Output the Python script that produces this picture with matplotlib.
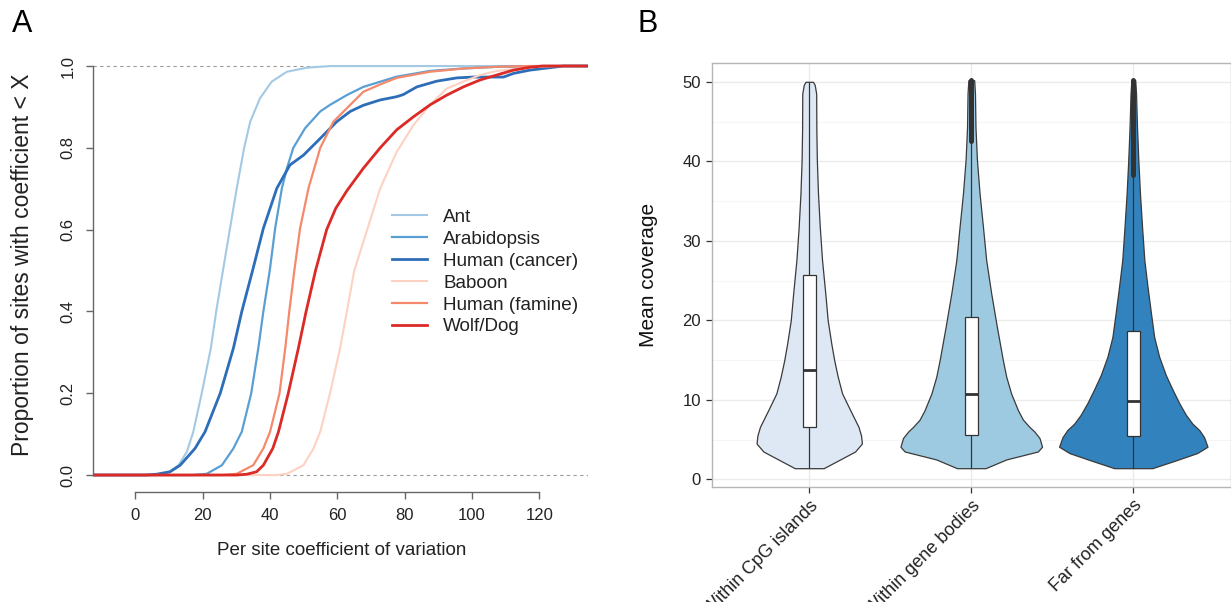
import numpy as np
import matplotlib.pyplot as plt

plt.rcParams['font.family'] = ['Liberation Sans', 'DejaVu Sans']

# ---- panel A: cumulative curves ----
species = ['Ant', 'Arabidopsis', 'Human (cancer)', 'Baboon', 'Human (famine)', 'Wolf/Dog']
colors_a = ['#a3c9e4', '#5a9fd4', '#2e6db8', '#fdd2c2', '#f5896b', '#dc2a27']
widths_a = [1.5, 1.6, 2.0, 1.5, 1.6, 2.0]

ant_x = [-12.5, 6, 9.3, 12.8, 15.3, 17.2, 19.7, 22.4, 24.0, 26.0, 28.1, 30.1, 32.3, 34.1,
         37.0, 40.5, 45.0, 51.0, 58.0, 134.5]
ant_y = [0, 0, 0.003, 0.024, 0.057, 0.106, 0.2, 0.31, 0.4, 0.5, 0.603, 0.701, 0.8, 0.864,
         0.921, 0.962, 0.986, 0.996, 1.0, 1.0]

arab_x = [-12.5, 17, 21.2, 25.7, 29.1, 31.6, 34.4, 36.5, 38.0, 39.9, 41.5, 43.5, 45.0, 46.9,
          50.4, 54.9, 57.8, 62.8, 67.7, 77.6, 87.5, 97.4, 107.3, 121.0, 134.5]
arab_y = [0, 0, 0.003, 0.024, 0.065, 0.106, 0.2, 0.31, 0.4, 0.5, 0.603, 0.701, 0.75, 0.8,
          0.848, 0.889, 0.905, 0.929, 0.949, 0.974, 0.988, 0.994, 0.998, 1.0, 1.0]

cancer_x = [-12.5, 3, 6.3, 10.3, 13.3, 17.7, 20.7, 25.2, 29.1, 31.6, 34.8, 38.0, 42.0, 45.9,
            49.9, 54.9, 59.8, 63.8, 67.7, 72.7, 77.6, 79.5, 83.6, 89.5, 95.5, 100.4, 109.3,
            112.3, 117.2, 123.2, 127.0, 134.5]
cancer_y = [0, 0, 0.002, 0.008, 0.024, 0.065, 0.106, 0.2, 0.31, 0.4, 0.5, 0.603, 0.701, 0.758,
            0.782, 0.823, 0.864, 0.889, 0.904, 0.917, 0.925, 0.93, 0.949, 0.963, 0.971, 0.973,
            0.973, 0.982, 0.99, 0.996, 1.0, 1.0]

baboon_x = [-12.5, 42, 45.0, 49.9, 52.9, 54.9, 57.8, 60.8, 62.8, 65.0, 67.7, 72.7, 77.6, 82.6,
            87.5, 92.5, 97.4, 102.4, 107.3, 117.2, 125.0, 134.5]
baboon_y = [0, 0, 0.003, 0.024, 0.065, 0.106, 0.2, 0.31, 0.4, 0.5, 0.57, 0.701, 0.79, 0.856,
            0.905, 0.945, 0.962, 0.978, 0.988, 0.997, 1.0, 1.0]

famine_x = [-12.5, 26, 30.1, 35.0, 38.0, 40.0, 42.8, 44.5, 45.7, 47.2, 48.9, 51.4, 54.9, 58.8,
            63.8, 67.7, 72.7, 77.6, 87.5, 97.4, 107.3, 117.2, 134.5]
famine_y = [0, 0, 0.003, 0.024, 0.065, 0.106, 0.2, 0.31, 0.4, 0.5, 0.603, 0.701, 0.8, 0.864,
            0.905, 0.937, 0.955, 0.971, 0.986, 0.994, 0.998, 1.0, 1.0]

wolf_x = [-12.5, 30, 33.1, 36.0, 38.0, 40.8, 42.5, 45.4, 48.4, 50.7, 53.5, 56.8, 59.5, 62.8,
          67.7, 72.7, 77.6, 82.6, 87.5, 92.5, 97.4, 102.4, 107.3, 112.3, 117.2, 121.0, 134.5]
wolf_y = [0, 0, 0.002, 0.008, 0.024, 0.065, 0.106, 0.2, 0.31, 0.4, 0.5, 0.6, 0.652, 0.695,
          0.75, 0.8, 0.844, 0.876, 0.905, 0.929, 0.949, 0.966, 0.978, 0.99, 0.997, 1.0, 1.0]

curves_x = [ant_x, arab_x, cancer_x, baboon_x, famine_x, wolf_x]
curves_y = [ant_y, arab_y, cancer_y, baboon_y, famine_y, wolf_y]

# ---- panel B: violin outlines (half widths in x units) and box stats ----
regions = ['Within CpG islands', 'Within gene bodies', 'Far from genes']
fills_b = ['#dee8f5', '#9ecae1', '#3182bd']

cpg_y = [1.4, 2.5, 3.5, 4.5, 5.5, 6.6, 8.7, 10.8, 12.9, 15.0, 17.1, 20.0, 23.4, 27.6, 31.8,
         36.0, 40.2, 44.0, 48.5, 49.6, 50.0]
cpg_w = [0.089, 0.191, 0.283, 0.325, 0.320, 0.304, 0.253, 0.203, 0.176, 0.154, 0.136, 0.114,
         0.099, 0.079, 0.065, 0.054, 0.047, 0.044, 0.043, 0.034, 0.023]

gene_y = [1.4, 2.5, 3.5, 4.1, 5.2, 6.0, 6.6, 7.5, 8.7, 10.8, 12.9, 15.0, 19.2, 23.4, 27.6,
          31.8, 36.0, 40.2, 44.3, 48.5, 50.2]
gene_w = [0.088, 0.216, 0.411, 0.437, 0.421, 0.390, 0.359, 0.319, 0.288, 0.246, 0.216, 0.195,
          0.158, 0.123, 0.092, 0.072, 0.051, 0.035, 0.026, 0.023, 0.018]

far_y = [1.4, 2.3, 3.3, 4.1, 5.3, 6.2, 7.0, 8.1, 9.6, 11.3, 13.1, 15.4, 17.9, 20.9, 24.2, 27.6,
         31.8, 36.0, 40.2, 44.3, 48.5, 50.2]
far_w = [0.117, 0.251, 0.394, 0.458, 0.437, 0.407, 0.365, 0.325, 0.283, 0.242, 0.201, 0.160,
         0.129, 0.109, 0.088, 0.068, 0.054, 0.041, 0.031, 0.023, 0.017, 0.012]

violin_y = [cpg_y, gene_y, far_y]
violin_w = [cpg_w, gene_w, far_w]

q1 = [6.6, 5.6, 5.4]
median = [13.75, 10.7, 9.8]
q3 = [25.7, 20.4, 18.6]
whisk_lo = [1.4, 1.4, 1.4]
whisk_hi = [50.0, 42.5, 38.3]
outlier_lo = [np.nan, 42.5, 38.3]
outlier_hi = [np.nan, 50.2, 50.2]

fig = plt.figure(figsize=(12.31, 6.02), dpi=100)

# ================= A =================
axA = fig.add_axes([0.0758, 0.1832, 0.4021, 0.7138])
for xs, ys, c, lw in zip(curves_x, curves_y, colors_a, widths_a):
    axA.plot(xs, ys, color=c, lw=lw, solid_joinstyle='round')
axA.axhline(0, color='#9a9a9a', lw=0.8, dashes=(3, 3), zorder=0)
axA.axhline(1, color='#9a9a9a', lw=0.8, dashes=(3, 3), zorder=0)

axA.set_xlim(-12.5, 134.5)
axA.set_ylim(-0.0408, 1.0098)
axA.set_xticks(np.arange(0, 121, 20))
axA.set_yticks(np.arange(0, 1.01, 0.2))
axA.set_yticklabels(['%.1f' % v for v in np.arange(0, 1.01, 0.2)])
for s in ['top', 'right']:
    axA.spines[s].set_visible(False)
axA.spines['left'].set_bounds(0, 1)
axA.spines['bottom'].set_bounds(0, 120)
for s in ['left', 'bottom']:
    axA.spines[s].set_color('#666666')
    axA.spines[s].set_linewidth(1.0)
axA.tick_params(axis='both', length=5, width=1.0, color='#666666',
                labelsize=12, labelcolor='#222222')
axA.tick_params(axis='y', labelrotation=90, pad=8)
axA.tick_params(axis='x', pad=7)
for lab in axA.get_yticklabels():
    lab.set_va('center')

axA.set_xlabel('Per site coefficient of variation', fontsize=13.5, color='#222222')
axA.xaxis.set_label_coords(0.502, -0.137)
axA.xaxis.label.set_va('center')
axA.set_ylabel('Proportion of sites with coefficient < X', fontsize=16.5, color='#222222')
axA.yaxis.set_label_coords(-0.144, 0.529)
axA.yaxis.label.set_va('center')

leg = axA.legend(species, loc='upper left', bbox_to_anchor=(0.603, 0.659),
                 frameon=False, fontsize=13.6, handlelength=1.85, handletextpad=0.88,
                 labelspacing=0.25, borderpad=0, borderaxespad=0)
for t in leg.get_texts():
    t.set_color('#222222')

# ================= B =================
axB = fig.add_axes([0.5784, 0.1905, 0.4212, 0.7053])
axB.set_xlim(0.4, 3.6)
axB.set_ylim(-1.006, 52.4)
axB.set_yticks(np.arange(0, 51, 10))
axB.set_yticks(np.arange(5, 50, 10), minor=True)
axB.set_xticks([1, 2, 3])
axB.set_xticklabels(regions, rotation=45, ha='right', va='top', rotation_mode='anchor')
axB.grid(True, which='major', color='#ebebeb', lw=1.0)
axB.grid(True, which='minor', axis='y', color='#f5f5f5', lw=0.8)
axB.set_axisbelow(True)
for s in axB.spines.values():
    s.set_color('#b5b5b5')
    s.set_linewidth(1.0)
axB.tick_params(axis='both', which='major', length=4, width=0.9, color='#333333',
                labelsize=12, labelcolor='#222222', pad=4)
axB.tick_params(axis='x', labelsize=13, pad=3)
axB.tick_params(axis='y', which='minor', length=0)

for i in range(3):
    pos = i + 1
    vy = np.array(violin_y[i])
    vw = np.array(violin_w[i])
    axB.fill_betweenx(vy, pos - vw, pos + vw, facecolor=fills_b[i],
                      edgecolor='#3a3a3a', lw=0.9, zorder=2)
    axB.vlines(pos, whisk_lo[i], q1[i], color='#333333', lw=0.9, zorder=3)
    axB.vlines(pos, q3[i], whisk_hi[i], color='#333333', lw=0.9, zorder=3)
    axB.bar(pos, q3[i] - q1[i], bottom=q1[i], width=0.08, color='white',
            edgecolor='#333333', lw=0.9, zorder=4)
    axB.hlines(median[i], pos - 0.04, pos + 0.04, color='#333333', lw=2.0, zorder=5)
    if not np.isnan(outlier_lo[i]):
        axB.vlines(pos, outlier_lo[i], outlier_hi[i], color='#333333', lw=3.6,
                   capstyle='round', zorder=5)

axB.set_ylabel('Mean coverage', fontsize=15, color='#111111')
axB.yaxis.set_label_coords(-0.123, 0.5)
axB.yaxis.label.set_va('center')

fig.text(22 / 1231, 1 - 24 / 602, 'A', fontsize=22, ha='center', va='center')
fig.text(648 / 1231, 1 - 24 / 602, 'B', fontsize=22, ha='center', va='center')

fig.savefig('out.png', dpi=100)
